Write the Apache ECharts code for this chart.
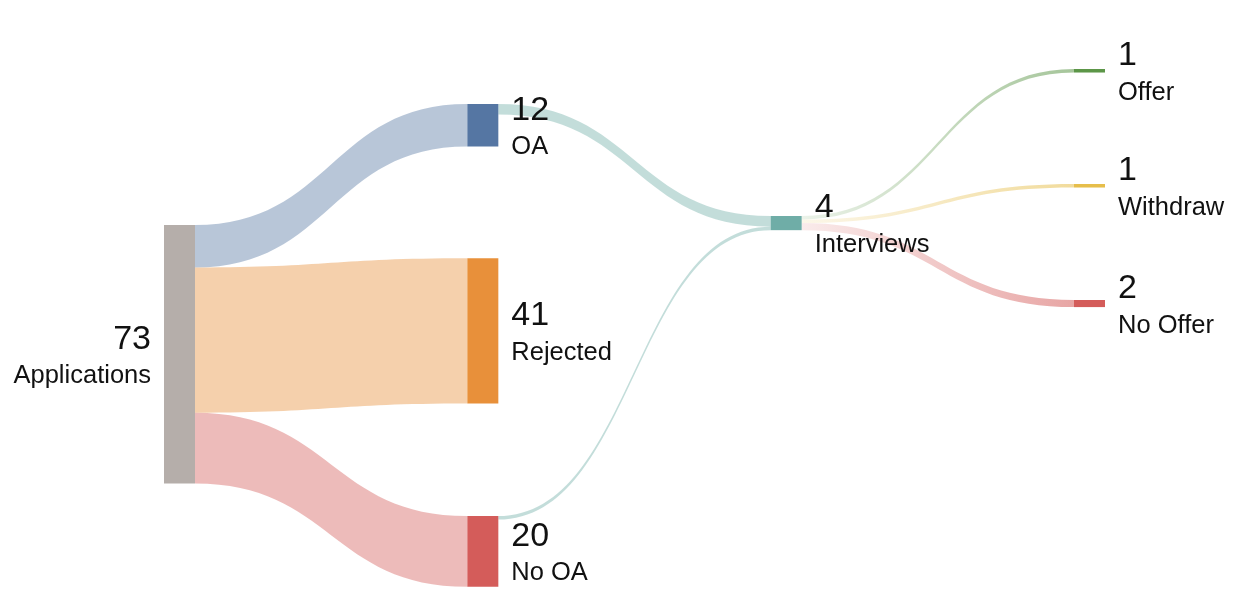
<!DOCTYPE html>
<html>
<head>
<meta charset="utf-8">
<script src="https://cdn.jsdelivr.net/npm/echarts@6/dist/echarts.min.js"></script>
<style>
  html, body { margin: 0; padding: 0; background: #ffffff; }
  #chart { width: 1247px; height: 606px; }
</style>
</head>
<body>
<div id="chart"></div>
<script>
// ---- data ----
var nodeNames  = ['Applications', 'OA', 'Rejected', 'No OA', 'Interviews', 'Offer', 'Withdraw', 'No Offer'];
var nodeValues = [73, 12, 41, 20, 4, 1, 1, 2];
var linkSources = ['Applications', 'Applications', 'Applications', 'OA', 'No OA', 'Interviews', 'Interviews', 'Interviews'];
var linkTargets = ['OA', 'Rejected', 'No OA', 'Interviews', 'Interviews', 'Offer', 'Withdraw', 'No Offer'];
var linkValues  = [12, 41, 20, 3, 1, 1, 1, 2];

// ---- styling (not data) ----
var nodeColors = {
  'Applications': '#b5aeaa', 'OA': '#5576a3', 'Rejected': '#e8903a', 'No OA': '#d45c5a',
  'Interviews': '#6fada7', 'Offer': '#5c9648', 'Withdraw': '#e6be4b', 'No Offer': '#d45c5a'
};
var nodeLocalY = {
  'Applications': 0.2505, 'OA': 0, 'Rejected': 0.3195, 'No OA': 0.853,
  'Interviews': 0.2319, 'Offer': -0.0725, 'Withdraw': 0.1656, 'No Offer': 0.4058
};
function rgba(hex, a) {
  var r = parseInt(hex.slice(1, 3), 16), g = parseInt(hex.slice(3, 5), 16), b = parseInt(hex.slice(5, 7), 16);
  return 'rgba(' + r + ',' + g + ',' + b + ',' + a + ')';
}
var fadeSources = { 'Interviews': true };

var nodes = nodeNames.map(function (n, i) {
  return {
    name: n,
    value: nodeValues[i],
    localY: nodeLocalY[n],
    itemStyle: { color: nodeColors[n], borderWidth: 0 },
    label: n === 'Applications' ? { position: 'left', align: 'right' } : { position: 'right', align: 'left' }
  };
});

var links = linkSources.map(function (s, i) {
  var t = linkTargets[i];
  var c = nodeColors[t];
  var color;
  if (fadeSources[s]) {
    color = { type: 'linear', x: 0, y: 0, x2: 1, y2: 0,
      colorStops: [{ offset: 0, color: rgba(c, 0.12) }, { offset: 1, color: rgba(c, 0.55) }] };
  } else {
    color = rgba(c, 0.42);
  }
  return { source: s, target: t, value: linkValues[i], lineStyle: { color: color, opacity: 1 } };
});

var chart = echarts.init(document.getElementById('chart'), null, { renderer: 'canvas' });
chart.setOption({
  backgroundColor: '#ffffff',
  animation: false,
  series: [{
    type: 'sankey',
    left: 164, top: 104, width: 941, height: 483,
    nodeWidth: 31,
    nodeGap: 112.25,
    nodeAlign: 'left',
    layoutIterations: 0,
    draggable: false,
    emphasis: { disabled: true },
    data: nodes,
    links: links,
    lineStyle: { curveness: 0.5 },
    label: {
      show: true,
      distance: 13,
      color: '#111111',
      fontFamily: '"Liberation Sans", Arial, Helvetica, sans-serif',
      formatter: function (p) { return '{v|' + p.value + '}\n{n|' + p.name + '}'; },
      rich: {
        v: { fontSize: 34, lineHeight: 44, color: '#111111', fontFamily: '"Liberation Sans", Arial, sans-serif' },
        n: { fontSize: 25.5, lineHeight: 30, color: '#111111', fontFamily: '"Liberation Sans", Arial, sans-serif' }
      }
    }
  }]
});
</script>
</body>
</html>
